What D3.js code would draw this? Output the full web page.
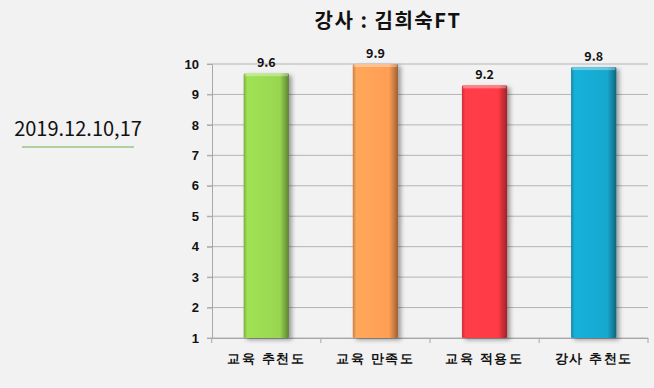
<!DOCTYPE html>
<html>
<head>
<meta charset="utf-8">
<script src="https://cdn.jsdelivr.net/npm/d3@7"></script>
<style>
  body { margin: 0; background: #f2f2f2; }
  svg { display: block; font-family: "Noto Sans CJK KR", "Noto Sans", sans-serif; }
</style>
</head>
<body>
<svg id="chart" width="654" height="388"></svg>
<script>
let categories = ["교육 추천도", "교육 만족도", "교육 적용도", "강사 추천도"];
let scores = [9.6, 9.9, 9.2, 9.8];
let barColors = ["#98d650", "#ff9e55", "#ff3a45", "#17a8cf"];
let yTicks = [1, 2, 3, 4, 5, 6, 7, 8, 9, 10];
let title = "강사 : 김희숙FT";
let dateText = "2019.12.10,17";

let svg = d3.select("#chart");
let W = 654, H = 388;
let margin = { left: 212, right: 6, top: 64, bottom: 50 };

svg.append("rect").attr("width", W).attr("height", H).attr("fill", "#f2f2f2");

let x = d3.scaleBand()
  .domain(categories)
  .range([margin.left, W - margin.right])
  .paddingInner(0.585)
  .paddingOuter(0.29);

let y = d3.scaleLinear()
  .domain([1, 10])
  .range([H - margin.bottom, margin.top]);

// gradients for bevelled bars
let defs = svg.append("defs");
barColors.forEach((c, i) => {
  let g = defs.append("linearGradient").attr("id", "grad" + i)
    .attr("x1", "0").attr("x2", "1").attr("y1", "0").attr("y2", "0");
  let base = d3.color(c);
  g.append("stop").attr("offset", "0%").attr("stop-color", base.darker(0.6));
  g.append("stop").attr("offset", "8%").attr("stop-color", base.brighter(0.15));
  g.append("stop").attr("offset", "80%").attr("stop-color", base);
  g.append("stop").attr("offset", "100%").attr("stop-color", base.darker(1.4));
});
let f = defs.append("filter").attr("id", "shadow")
  .attr("x", "-20%").attr("y", "-10%").attr("width", "150%").attr("height", "130%");
f.append("feDropShadow").attr("dx", 3).attr("dy", 2).attr("stdDeviation", 2)
  .attr("flood-color", "#000").attr("flood-opacity", 0.35);

// gridlines
svg.append("g")
  .selectAll("line")
  .data(yTicks)
  .join("line")
  .attr("x1", margin.left - 5)
  .attr("x2", W - margin.right)
  .attr("y1", d => y(d))
  .attr("y2", d => y(d))
  .attr("stroke", "#b4b4b4")
  .attr("stroke-width", 1);

// y axis
let yAxis = svg.append("g")
  .attr("transform", `translate(${margin.left},0)`)
  .call(d3.axisLeft(y).tickValues(yTicks).tickSize(5).tickPadding(8));
yAxis.select(".domain").attr("stroke", "#a8a8a8");
yAxis.selectAll(".tick line").attr("stroke", "#a8a8a8");
yAxis.selectAll("text")
  .attr("font-size", 13).attr("font-weight", "bold").attr("fill", "#111");

// x axis
let xAxis = svg.append("g")
  .attr("transform", `translate(0,${H - margin.bottom})`)
  .call(d3.axisBottom(x).tickSize(0).tickPadding(16));
xAxis.select(".domain").attr("stroke", "#a8a8a8");
xAxis.selectAll("text")
  .attr("font-size", 13).attr("font-weight", "bold").attr("fill", "#111")
  .attr("letter-spacing", 1.6);
let step = x.step();
let edges = categories.map(c => x(c) - (step - x.bandwidth()) / 2);
edges.push(W - margin.right);
svg.append("g").selectAll("line")
  .data(edges)
  .join("line")
  .attr("x1", d => d).attr("x2", d => d)
  .attr("y1", H - margin.bottom).attr("y2", H - margin.bottom + 5)
  .attr("stroke", "#a8a8a8");

// bars
svg.append("g")
  .selectAll("rect")
  .data(scores)
  .join("rect")
  .attr("x", (d, i) => x(categories[i]))
  .attr("width", x.bandwidth())
  .attr("y", d => y(d) - 3)
  .attr("height", d => y(1) - y(d) + 3)
  .attr("rx", 1.5)
  .attr("fill", (d, i) => `url(#grad${i})`)
  .attr("filter", "url(#shadow)");

// top highlight
svg.append("g")
  .selectAll("rect")
  .data(scores)
  .join("rect")
  .attr("x", (d, i) => x(categories[i]) + 1)
  .attr("width", x.bandwidth() - 2)
  .attr("y", d => y(d) - 3)
  .attr("height", 3)
  .attr("fill", "#fff")
  .attr("opacity", 0.35);

// value labels
svg.append("g")
  .selectAll("text")
  .data(scores)
  .join("text")
  .attr("x", (d, i) => x(categories[i]) + x.bandwidth() / 2)
  .attr("y", d => y(d) - 9)
  .attr("text-anchor", "middle")
  .attr("font-size", 12.5)
  .attr("font-weight", "bold")
  .attr("fill", "#111")
  .text(d => d.toFixed(1));

// title
svg.append("text")
  .attr("x", 388).attr("y", 28)
  .attr("text-anchor", "middle")
  .attr("font-size", 20)
  .attr("font-weight", "bold")
  .attr("letter-spacing", 1.5)
  .attr("fill", "#111")
  .text(title);

// date note
svg.append("text")
  .attr("x", 78).attr("y", 136)
  .attr("text-anchor", "middle")
  .attr("font-size", 20)
  .attr("fill", "#111")
  .text(dateText);
svg.append("line")
  .attr("x1", 22).attr("x2", 134)
  .attr("y1", 147).attr("y2", 147)
  .attr("stroke", "#70ad47").attr("stroke-width", 1);
</script>
</body>
</html>
